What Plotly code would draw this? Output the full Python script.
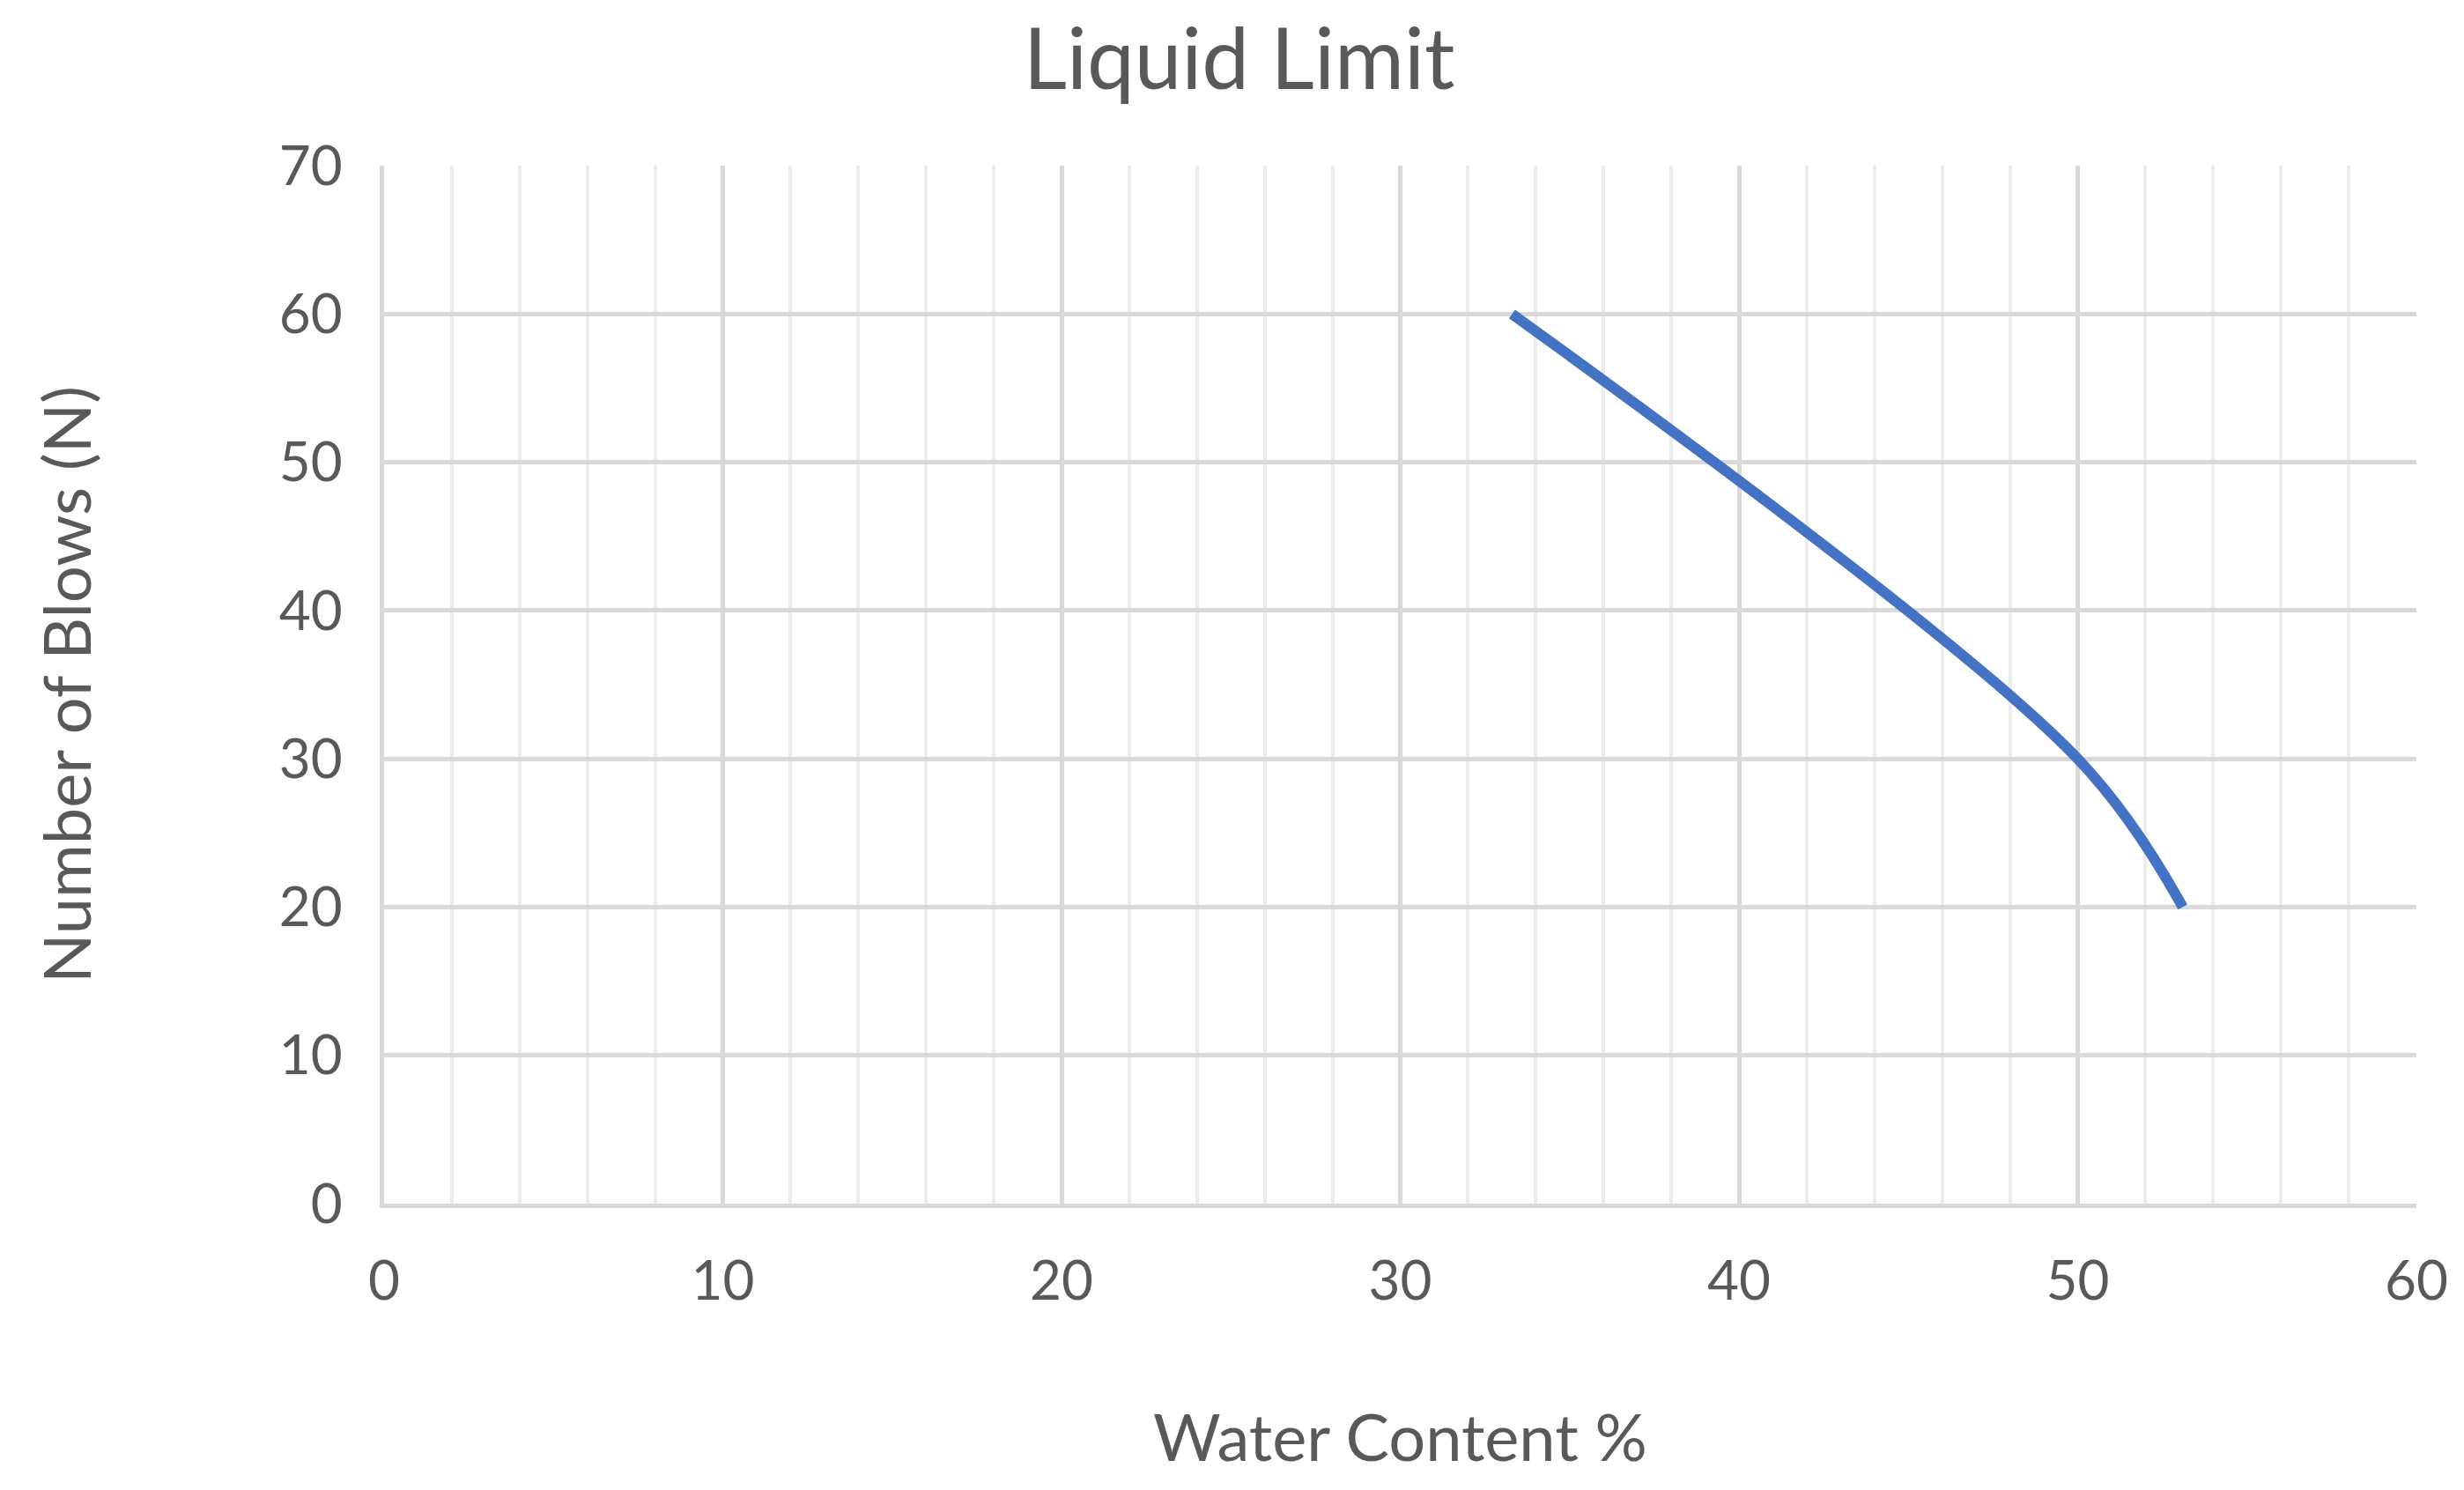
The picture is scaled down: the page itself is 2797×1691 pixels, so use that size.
import plotly.graph_objects as go

water_content = [33.3, 50.0, 53.1]
blows = [60, 30, 20]

fig = go.Figure(go.Scatter(x=water_content, y=blows, mode="lines",
    line=dict(color="#4472C4", width=12, shape="spline", smoothing=1.0)))

grid = "#D9D9D9"
fig.update_layout(
    width=2797, height=1691, paper_bgcolor="white", plot_bgcolor="white",
    margin=dict(l=428, r=62, t=180, b=333),
    font=dict(family="Lato", color="#595959", size=62),
    title=dict(text="Liquid Limit", x=0.5, xanchor="center", y=0.985, yanchor="top",
               font=dict(size=96, color="#595959")),
    showlegend=False,
)
fig.update_xaxes(range=[0, 60], dtick=10, showgrid=True, gridcolor=grid, gridwidth=5,
    minor=dict(dtick=2, showgrid=True, gridcolor="#EDEDED", gridwidth=4),
    showline=True, linecolor=grid, linewidth=5, zeroline=False, ticks="",
    title=dict(text="Water Content %", font=dict(size=74), standoff=120), ticklabelstandoff=30)
fig.update_yaxes(range=[0, 70], dtick=10, showgrid=True, gridcolor=grid, gridwidth=5,
    showline=True, linecolor=grid, linewidth=5, zeroline=False, ticks="",
    title=dict(text="Number of Blows (N)", font=dict(size=74), standoff=190), ticklabelstandoff=30)
fig.write_html("out.html")
